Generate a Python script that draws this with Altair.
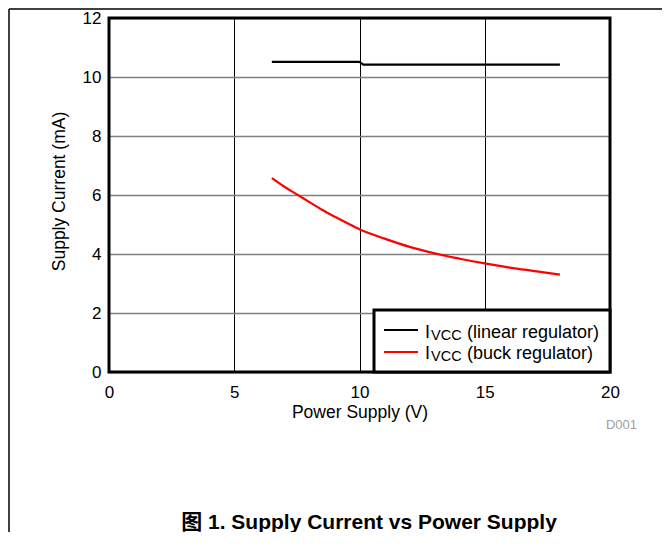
import altair as alt
import pandas as pd

# ---- data ----
lin_v = [6.5, 10.0, 10.15, 18.0]
lin_i = [10.51, 10.51, 10.42, 10.42]

buck_v = [6.5, 7.0, 7.5, 8.0, 8.5, 9.0, 9.5, 10.0, 11.0, 12.0, 13.0, 14.0, 15.0, 16.0, 17.0, 18.0]
buck_i = [6.57, 6.28, 6.02, 5.76, 5.5, 5.27, 5.05, 4.84, 4.52, 4.24, 4.02, 3.84, 3.68, 3.54, 3.42, 3.30]

series_names = ["linear regulator", "buck regulator"]
series_colors = ["#000000", "#ff0000"]
legend_main = ["I", "I"]
legend_sub = ["VCC", "VCC"]
legend_desc = ["(linear regulator)", "(buck regulator)"]

x_ticks = [0, 5, 10, 15, 20]
y_ticks = [0, 2, 4, 6, 8, 10, 12]
x_title = "Power Supply (V)"
y_title = "Supply Current (mA)"
fig_title = "图 1. Supply Current vs Power Supply"
fig_code = "D001"

FONT = "Liberation Sans, Arial, Noto Sans CJK SC"

df_lin = pd.DataFrame({"v": lin_v, "i": lin_i, "s": series_names[0], "o": range(len(lin_v))})
df_buck = pd.DataFrame({"v": buck_v, "i": buck_i, "s": series_names[1], "o": range(len(buck_v))})

W, H = 501, 354

x_enc = alt.X("v:Q", scale=alt.Scale(domain=[0, 20], nice=False, zero=False),
              axis=alt.Axis(values=x_ticks, grid=True, gridColor="#000000", gridWidth=1,
                            domain=False, ticks=False, tickSize=0, labelFlush=False,
                            labelFontSize=17, labelPadding=12, labelColor="#000000", labelFont=FONT,
                            title=x_title, titleFontSize=17.5, titleFontWeight="normal",
                            titleFont=FONT, titleColor="#000000",
                            titleY=45, titleBaseline="alphabetic"))
y_enc = alt.Y("i:Q", scale=alt.Scale(domain=[0, 12], nice=False, zero=False),
              axis=alt.Axis(values=y_ticks, grid=True, gridColor="#808080", gridWidth=1.6,
                            domain=False, ticks=False, tickSize=0, labelFlush=False,
                            labelFontSize=17, labelPadding=8, labelColor="#000000", labelFont=FONT,
                            title=y_title, titleFontSize=17.5, titleFontWeight="normal",
                            titleFont=FONT, titleColor="#000000",
                            titleAngle=270, titleX=-45, titleY=173,
                            titleBaseline="alphabetic", titleAlign="center"))

one = pd.DataFrame({"a": [0]})
color_enc = alt.Color("s:N", scale=alt.Scale(domain=series_names, range=series_colors), legend=None)

# plot border (drawn above the grid)
border = alt.Chart(one).mark_rect(fillOpacity=0, stroke="black", strokeWidth=3).encode(
    x=alt.value(0), x2=alt.value(W), y=alt.value(0), y2=alt.value(H))

line_lin = alt.Chart(df_lin).mark_line(strokeWidth=2.2, clip=True).encode(
    x=x_enc, y=y_enc, color=color_enc, order="o:Q")
line_buck = alt.Chart(df_buck).mark_line(strokeWidth=2.2, clip=True, interpolate="monotone").encode(
    x="v:Q", y="i:Q", color=color_enc, order="o:Q")


def txt(x, y, text, size, **kw):
    return alt.Chart(one).mark_text(text=text, fontSize=size, font=FONT, align=kw.pop("align", "left"),
                                    baseline="alphabetic", **kw).encode(
        x=alt.value(x), y=alt.value(y))

layers = [line_lin, line_buck, border]

# legend box
layers.append(alt.Chart(one).mark_rect(fill="white", stroke="black", strokeWidth=3).encode(
    x=alt.value(265), x2=alt.value(501), y=alt.value(292), y2=alt.value(354)))

leg_y = [312, 334]
leg_base = [320, 341]
for k in range(2):
    layers.append(alt.Chart(one).mark_rule(color=series_colors[k], strokeWidth=2.2).encode(
        x=alt.value(275), x2=alt.value(309), y=alt.value(leg_y[k])))
    layers.append(txt(316, leg_base[k], legend_main[k], 18, color="black"))
    layers.append(txt(322, leg_base[k] + 2, legend_sub[k], 14.5, color="black"))
    layers.append(txt(358, leg_base[k], legend_desc[k], 18, color="black"))

# code and figure title
layers.append(txt(528, 411, fig_code, 13, color="#a0a0a0", align="right"))
layers.append(txt(260, 511, fig_title, 21, color="black", fontWeight="bold", align="center"))

# figure frame (top and left)
layers.append(alt.Chart(one).mark_rule(color="black", strokeWidth=1.5).encode(
    x=alt.value(-100), x2=alt.value(553), y=alt.value(-9)))
layers.append(alt.Chart(one).mark_rule(color="black", strokeWidth=1.5).encode(
    x=alt.value(-100), y=alt.value(-9), y2=alt.value(516)))

chart = alt.layer(*layers).properties(
    width=W, height=H,
    padding={"left": 101, "top": 10, "right": 52, "bottom": 160},
    autosize=alt.AutoSizeParams(type="none"),
).configure_view(stroke=None).configure(background="white")

chart.save("out.html", embed_options={"renderer": "svg", "actions": False})
